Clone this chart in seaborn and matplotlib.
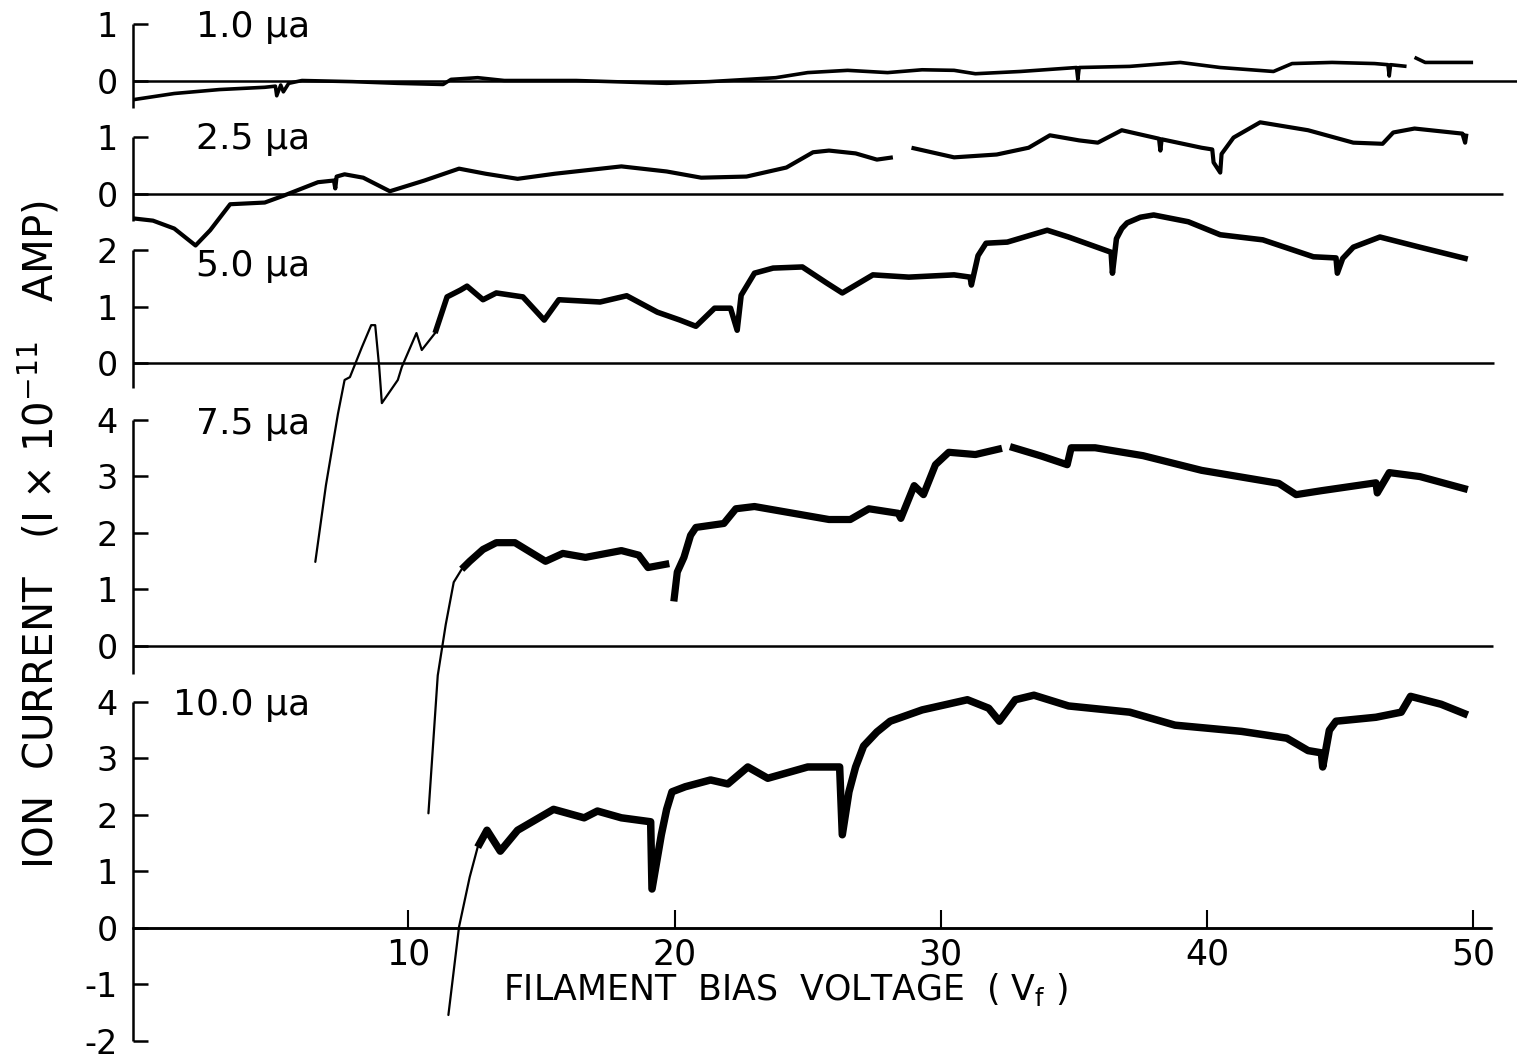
import numpy as np
import pandas as pd
import matplotlib
matplotlib.use("Agg")
import matplotlib.pyplot as plt
import seaborn as sns

# ---------------- data ----------------
panel_labels = ["1.0 μa", "2.5 μa", "5.0 μa", "7.5 μa", "10.0 μa"]
panel_ticks = [[0, 1], [0, 1], [0, 1, 2], [0, 1, 2, 3, 4], [-2, -1, 0, 1, 2, 3, 4]]
x_ticks = [10, 20, 30, 40, 50]

nan = np.nan
# 1.0 μa
v1 = [-0.35, 1.2, 2.9, 4.6, 5.0, 5.05, 5.2, 5.3, 5.5, 6.0, 7.9, 9.6, 11.3, 11.6, 12.6, 13.6,
      16.3, 19.7, 21.3, 23.8, 25.0, 26.5, 28.0, 29.3, 30.5, 31.3, 33.0, 35.1, 35.15, 35.2,
      37.1, 39.0, 40.5, 42.5, 43.2, 44.7, 46.3, 46.8, 46.85, 46.9, 47.5, nan, 47.8, 48.2, 50.0]
i1 = [-0.34, -0.23, -0.16, -0.12, -0.1, -0.27, -0.08, -0.2, -0.05, 0.0, -0.02, -0.05, -0.07, 0.02, 0.05, 0.0,
      0.0, -0.05, -0.02, 0.05, 0.14, 0.18, 0.14, 0.19, 0.18, 0.12, 0.16, 0.23, 0.02, 0.23,
      0.25, 0.32, 0.23, 0.16, 0.3, 0.32, 0.3, 0.28, 0.08, 0.28, 0.25, nan, 0.41, 0.32, 0.32]
# 2.5 μa
v2 = [-0.35, 0.4, 1.2, 2.0, 2.55, 3.3, 4.6, 5.3, 6.6, 7.2, 7.25, 7.3, 7.6, 8.3, 9.3, 10.6, 11.9,
      12.9, 14.1, 15.5, 18.0, 19.7, 21.0, 22.7, 24.2, 25.2, 25.8, 26.8, 27.6, 28.2, nan, 28.9,
      30.5, 32.1, 33.3, 34.1, 35.2, 35.9, 36.8, 38.2, 38.25, 38.3, 39.8, 40.2, 40.25, 40.5,
      40.55, 41.0, 42.0, 43.8, 45.5, 46.6, 47.0, 47.8, 49.6, 49.7, 49.75]
i2 = [-0.44, -0.48, -0.62, -0.92, -0.65, -0.19, -0.16, -0.04, 0.2, 0.23, 0.09, 0.3, 0.34, 0.28, 0.04, 0.23, 0.44,
      0.35, 0.26, 0.35, 0.48, 0.39, 0.28, 0.3, 0.46, 0.73, 0.76, 0.71, 0.6, 0.64, nan, 0.81,
      0.64, 0.69, 0.81, 1.03, 0.94, 0.9, 1.12, 0.97, 0.76, 0.96, 0.81, 0.78, 0.55, 0.37,
      0.7, 0.99, 1.26, 1.12, 0.9, 0.88, 1.08, 1.15, 1.06, 0.9, 1.06]
# 5.0 μa
v3 = [6.5, 6.9, 7.35, 7.6, 7.8, 8.25, 8.6, 8.75, 8.9, 9.0, 9.6, 9.75, 10.3, 10.5, 11.0, 11.45,
      11.95, 12.2, 12.8, 13.3, 14.3, 15.1, 15.65, 17.2, 18.2, 19.35, 20.2, 20.8, 21.5, 22.1,
      22.35, 22.5, 23.0, 23.7, 24.8, 25.7, 26.3, 27.45, 28.8, 30.5, 31.1, 31.15, 31.4, 31.7,
      32.5, 34.0, 34.8, 36.4, 36.45, 36.6, 36.8, 37.0, 37.5, 38.0, 39.3, 40.5, 42.1, 44.0,
      44.85, 44.9, 45.1, 45.5, 46.5, 48.0, 49.8]
i3 = [-3.52, -2.16, -0.9, -0.3, -0.25, 0.28, 0.67, 0.67, -0.07, -0.71, -0.3, -0.07, 0.53, 0.23, 0.53, 1.17,
      1.29, 1.36, 1.12, 1.24, 1.17, 0.76, 1.12, 1.08, 1.19, 0.9, 0.76, 0.65, 0.97, 0.97,
      0.58, 1.2, 1.59, 1.68, 1.7, 1.42, 1.24, 1.56, 1.52, 1.56, 1.52, 1.38, 1.9, 2.12,
      2.14, 2.35, 2.23, 1.96, 1.59, 2.2, 2.38, 2.48, 2.58, 2.62, 2.5, 2.27, 2.18, 1.88,
      1.86, 1.59, 1.85, 2.05, 2.23, 2.05, 1.84]
# 7.5 μa
v4 = [10.75, 11.1, 11.4, 11.7, 12.0, 12.3, 12.8, 13.3, 14.0, 15.15, 15.8, 16.65, 18.0, 18.65, 19.0,
      19.8, nan, 19.97, 20.1, 20.35, 20.6, 20.8, 21.85, 22.3, 23.0, 25.8, 26.6, 27.3, 28.4,
      28.5, 29.0, 29.35, 29.8, 30.3, 31.3, 32.3, nan, 32.6, 33.8, 34.75, 34.9, 35.8, 37.6,
      39.8, 42.7, 43.35, 44.3, 46.35, 46.4, 46.85, 48.0, 49.8]
i4 = [-2.97, -0.53, 0.37, 1.12, 1.35, 1.49, 1.7, 1.82, 1.82, 1.49, 1.63, 1.56, 1.68, 1.6, 1.38,
      1.45, nan, 0.78, 1.3, 1.56, 1.95, 2.09, 2.16, 2.42, 2.46, 2.23, 2.23, 2.42, 2.34,
      2.25, 2.83, 2.67, 3.2, 3.42, 3.38, 3.49, nan, 3.52, 3.35, 3.2, 3.5, 3.5, 3.36,
      3.1, 2.87, 2.67, 2.74, 2.88, 2.7, 3.06, 2.99, 2.76]
# 10.0 μa
v5 = [11.5, 11.9, 12.3, 12.6, 12.95, 13.45, 14.1, 15.45, 16.6, 17.1, 18.0, 19.1, 19.15, 19.5,
      19.7, 19.9, 20.4, 21.35, 22.0, 22.75, 23.5, 25.0, 26.2, 26.3, 26.55, 26.8, 27.1, 27.6,
      28.1, 29.3, 31.0, 31.8, 32.2, 32.8, 33.5, 34.8, 37.1, 38.8, 41.3, 43.0, 43.8, 44.3,
      44.35, 44.6, 44.85, 46.35, 47.3, 47.65, 48.8, 49.8]
i5 = [-1.54, 0.02, 0.9, 1.43, 1.73, 1.36, 1.73, 2.1, 1.95, 2.07, 1.95, 1.88, 0.69, 1.65,
      2.1, 2.41, 2.5, 2.62, 2.55, 2.85, 2.65, 2.85, 2.85, 1.65, 2.41, 2.85, 3.22, 3.47,
      3.66, 3.86, 4.04, 3.89, 3.66, 4.04, 4.12, 3.93, 3.82, 3.59, 3.48, 3.36, 3.14, 3.1,
      2.85, 3.5, 3.66, 3.73, 3.82, 4.1, 3.96, 3.77]

voltages = [v1, v2, v3, v4, v5]
currents = [i1, i2, i3, i4, i5]

# ---------------- layout / style ----------------
offsets = [15, 13, 10, 5, 0]                 # vertical stacking of the traces
thin_until = [None, None, 11.0, 12.0, 12.9]   # steep starts drawn thin
thick_lw = [2.6, 3.0, 4.0, 5.2, 5.4]
spine_rng = [(-0.48, 1), (-0.48, 1), (-0.44, 2), (-0.5, 4), (-2, 4)]
zero_end = [51.65, 51.12, 50.78, 50.74, 50.67]
label_base = [0.77, 0.79, 1.54, 3.74, 3.77]
XL, XR = -0.35, 51.65
YB, YT = -2.301, 16.425

sns.set_theme(style="white")
plt.rcParams["font.family"] = ["DejaVu Sans"]
plt.rcParams["mathtext.fontset"] = "dejavusans"

# build long table
rows = []
sid = 0
for k in range(5):
    xs = np.asarray(voltages[k], float)
    ys = np.asarray(currents[k], float)
    segs, cur = [], []
    for xv, yv in zip(xs, ys):
        if np.isnan(xv):
            segs.append(cur); cur = []
            continue
        cur.append((xv, yv))
    segs.append(cur)
    for s in segs:
        arr = np.array(s)
        t = thin_until[k]
        parts = []
        if t is not None and arr[0, 0] <= t:
            n = int(np.searchsorted(arr[:, 0], t, side="right"))
            parts.append((arr[:n + 1], "thin"))
            parts.append((arr[n - 1:], "thick"))
        else:
            parts.append((arr, "thick"))
        for a, w in parts:
            sid += 1
            for xv, yv in a:
                rows.append({"V": xv, "Y": yv + offsets[k], "seg": sid, "panel": k, "w": w})
df = pd.DataFrame(rows)

fig = plt.figure(figsize=(15.17, 10.58), dpi=100)
ax = fig.add_axes([133 / 1517, 0, 1 - 133 / 1517, 1])
ax.set_xlim(XL, XR)
ax.set_ylim(YB, YT)

for k in range(5):
    sub = df[(df.panel == k) & (df.w == "thick")]
    sns.lineplot(data=sub, x="V", y="Y", units="seg", estimator=None, sort=False,
                 color="black", linewidth=thick_lw[k], ax=ax, legend=False,
                 solid_capstyle="butt", solid_joinstyle="round")
    sub = df[(df.panel == k) & (df.w == "thin")]
    if len(sub):
        sns.lineplot(data=sub, x="V", y="Y", units="seg", estimator=None, sort=False,
                     color="black", linewidth=1.6, ax=ax, legend=False,
                     solid_joinstyle="round")

# zero lines and left axis segments
for k in range(5):
    ax.hlines(offsets[k], XL, zero_end[k], color="black", lw=1.8, clip_on=False, zorder=1)
    lo, hi = spine_rng[k]
    ax.vlines(XL, offsets[k] + lo, offsets[k] + hi, color="black", lw=1.8, clip_on=False)
    ax.text(6.3, offsets[k] + label_base[k], panel_labels[k], ha="right", va="baseline",
            fontsize=26, color="black")

for side in ["top", "right", "left"]:
    ax.spines[side].set_visible(False)
ax.spines["bottom"].set_position(("data", 0))
ax.spines["bottom"].set_bounds(XL, 50.67)
ax.spines["bottom"].set_linewidth(1.8)
ax.spines["bottom"].set_color("black")

ax.set_xticks(x_ticks)
ax.set_xticklabels([str(t) for t in x_ticks])
ax.tick_params(axis="x", direction="in", length=13, width=1.5, pad=7, labelsize=25,
               colors="black", bottom=True)

ypos, ylab = [], []
for k in range(5):
    for t in panel_ticks[k]:
        ypos.append(offsets[k] + t)
        ylab.append(str(t))
ax.set_yticks(ypos)
ax.set_yticklabels(ylab)
ax.tick_params(axis="y", direction="in", length=11, width=1.8, pad=11, labelsize=24,
               colors="black", left=True)
ax.grid(False)
ax.set_xlabel("")
ax.set_ylabel("")

ax.text(24.15, -1.27, "FILAMENT  BIAS  VOLTAGE  ( V$_{\\mathrm{f}}$ )", ha="center",
        va="baseline", fontsize=25, color="black")
fig.text(40 / 1517, 1 - 535 / 1058, "ION  CURRENT   (I × 10$^{-11}$   AMP)", rotation=90,
         ha="center", va="center", fontsize=29, color="black")

fig.savefig("out.png", dpi=100, facecolor="white")
